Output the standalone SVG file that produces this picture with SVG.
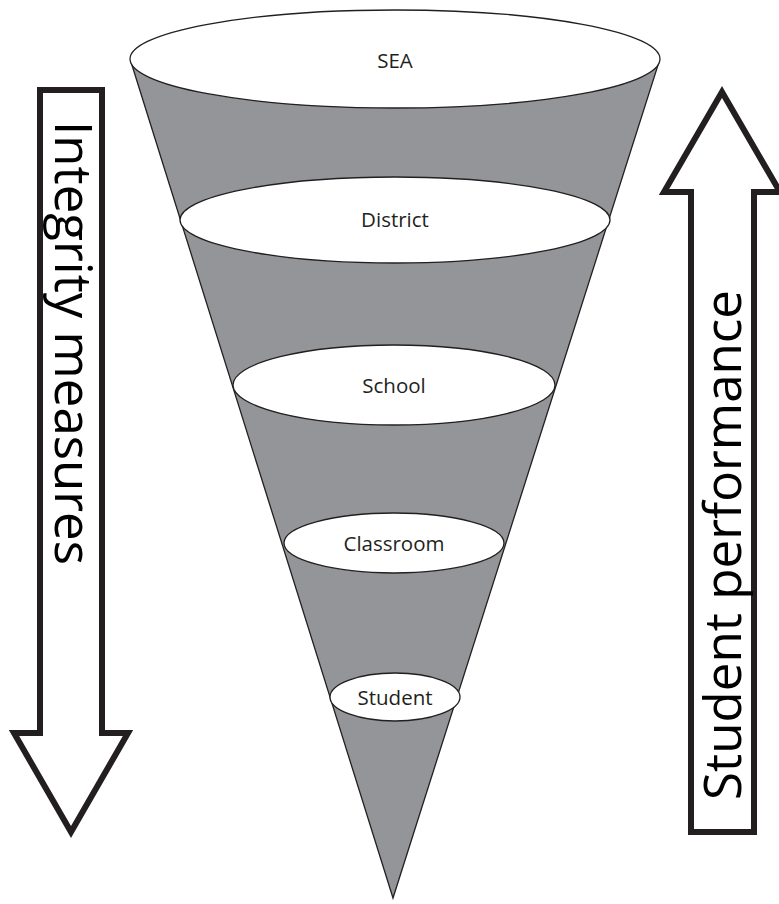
<svg xmlns="http://www.w3.org/2000/svg" width="779" height="904" viewBox="0 0 779 904">
<style>
.cone{fill:#939598;stroke:#231f20;stroke-width:1.3}
.lvl{fill:#ffffff;stroke:#231f20;stroke-width:1.3}
.lbl{font-family:"Open Sans","Noto Sans",sans-serif;font-size:20.5px;fill:#231f20;text-anchor:middle}
.arrow{fill:#ffffff;stroke:#231f20;stroke-width:6;stroke-linejoin:miter;stroke-miterlimit:10}
.big{font-family:"Open Sans","Noto Sans",sans-serif;font-size:52px;fill:#000000}
</style>
<rect width="779" height="904" fill="#ffffff"/>
<g id="cone">
<path class="cone" d="M131,62 L393,898 L659,62 Z"/>
</g>
<g id="sea">
<ellipse class="lvl" cx="395" cy="59" rx="265" ry="49"/>
<text class="lbl" x="395" y="68">SEA</text>
</g>
<g id="district">
<ellipse class="lvl" cx="395" cy="220" rx="215" ry="43"/>
<text class="lbl" x="395" y="227">District</text>
</g>
<g id="school">
<ellipse class="lvl" cx="394" cy="385" rx="161" ry="40"/>
<text class="lbl" x="394" y="393">School</text>
</g>
<g id="classroom">
<ellipse class="lvl" cx="394" cy="543" rx="110" ry="30"/>
<text class="lbl" x="394" y="551">Classroom</text>
</g>
<g id="student">
<ellipse class="lvl" cx="395" cy="697" rx="65" ry="24"/>
<text class="lbl" x="395" y="705">Student</text>
</g>
<g id="integrity-arrow">
<polygon class="arrow" points="40,90 102,90 102,733 128,733 71,832 14,733 40,733"/>
<text class="big" transform="translate(55,121) rotate(90)" textLength="444" lengthAdjust="spacingAndGlyphs">Integrity measures</text>
</g>
<g id="performance-arrow">
<polygon class="arrow" points="722,92 780,192 754,192 754,832 691,832 691,192 664,192"/>
<text class="big" transform="translate(741,800) rotate(-90)" textLength="510" lengthAdjust="spacingAndGlyphs">Student performance</text>
</g>
</svg>
